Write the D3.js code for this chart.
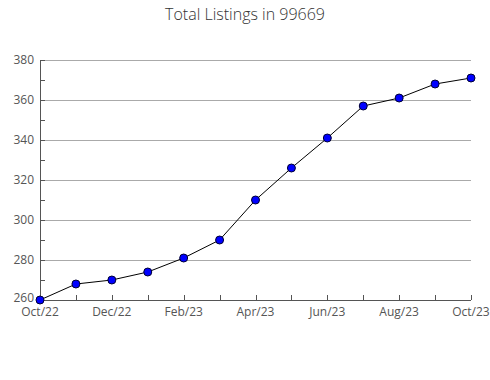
<!DOCTYPE html>
<html>
<head>
<meta charset="utf-8">
<script src="https://cdn.jsdelivr.net/npm/d3@7"></script>
<style>
  body { margin: 0; background: #fff; }
  svg { display: block; font-family: 'Open Sans', sans-serif; }
  .grid line { stroke: #aaa; shape-rendering: crispEdges; }
  .axis path, .axis line { stroke: #555; shape-rendering: crispEdges; }
  .axis text { fill: #555; font-size: 12px; }
</style>
</head>
<body>
<div id="chart"></div>
<script>
const months = ['Oct/22', 'Nov/22', 'Dec/22', 'Jan/23', 'Feb/23', 'Mar/23', 'Apr/23',
  'May/23', 'Jun/23', 'Jul/23', 'Aug/23', 'Sep/23', 'Oct/23']
const listings = [260, 268, 270, 274, 281, 290, 310, 326, 341, 357, 361, 368, 371]
const yTicks = [260, 280, 300, 320, 340, 360, 380]
const yMinor = [270, 290, 310, 330, 350, 370]

let margin = { top: 60, right: 19, bottom: 80, left: 40 }
let width = 490 - margin.left - margin.right
let height = 380 - margin.top - margin.bottom

let svg = d3.select('#chart')
  .append('svg')
  .attr('width', 490)
  .attr('height', 380)

svg.append('text')
  .text('Total Listings in 99669')
  .attr('x', 245)
  .attr('y', 20)
  .attr('text-anchor', 'middle')
  .style('font-size', '16px')
  .style('font-weight', 300)
  .style('fill', '#333')

let g = svg.append('g').attr('transform', `translate(${margin.left},${margin.top})`)

let xScale = d3.scalePoint().domain(months).range([0, width])
let yScale = d3.scaleLinear().domain([260, 380]).range([height, 0])

// gridlines
g.append('g')
  .attr('class', 'grid')
  .selectAll('line')
  .data(yTicks.slice(1))
  .enter()
  .append('line')
  .attr('x1', 0)
  .attr('x2', width)
  .attr('y1', (d) => yScale(d) + 0.5)
  .attr('y2', (d) => yScale(d) + 0.5)

// y axis, major + minor ticks pointing inward
g.append('g').attr('class', 'axis')
  .call(d3.axisRight(yScale).tickValues(yTicks).tickSize(5).tickFormat(''))
  .call((s) => s.select('.domain').remove())

g.append('g').attr('class', 'axis')
  .call(d3.axisRight(yScale).tickValues(yMinor).tickSize(5).tickFormat(''))
  .call((s) => s.select('.domain').remove())

g.append('line')
  .attr('x1', 0.5).attr('x2', 0.5)
  .attr('y1', 0).attr('y2', height)
  .style('stroke', '#555')

g.append('g')
  .attr('class', 'axis')
  .selectAll('text')
  .data(yTicks)
  .enter()
  .append('text')
  .attr('x', -6)
  .attr('y', (d) => yScale(d))
  .attr('dy', (d) => d === 260 ? '0.2em' : '0.35em')
  .attr('text-anchor', 'end')
  .text((d) => d)

// x axis, ticks pointing up
g.append('g')
  .attr('class', 'axis')
  .attr('transform', `translate(0,${height})`)
  .call(d3.axisTop(xScale).tickSize(5).tickFormat(''))
  .call((s) => s.select('.domain').remove())

g.append('line')
  .attr('x1', 0).attr('x2', width)
  .attr('y1', height + 0.5).attr('y2', height + 0.5)
  .style('stroke', '#555')

g.append('g')
  .attr('class', 'axis')
  .selectAll('text')
  .data(months.filter((d, i) => i % 2 === 0))
  .enter()
  .append('text')
  .attr('x', (d) => xScale(d))
  .attr('y', height + 16)
  .attr('text-anchor', 'middle')
  .text((d) => d)

// line + dots
let line = d3.line()
  .x((d, i) => xScale(months[i]))
  .y((d) => yScale(d))

g.append('path')
  .datum(listings)
  .attr('d', line)
  .attr('fill', 'none')
  .attr('stroke', '#000')
  .attr('stroke-width', 1)

g.selectAll('circle')
  .data(listings)
  .enter()
  .append('circle')
  .attr('cx', (d, i) => xScale(months[i]))
  .attr('cy', (d) => yScale(d))
  .attr('r', 4)
  .attr('fill', '#0000ff')
  .attr('stroke', '#000033')
  .attr('stroke-width', 1)
</script>
</body>
</html>
